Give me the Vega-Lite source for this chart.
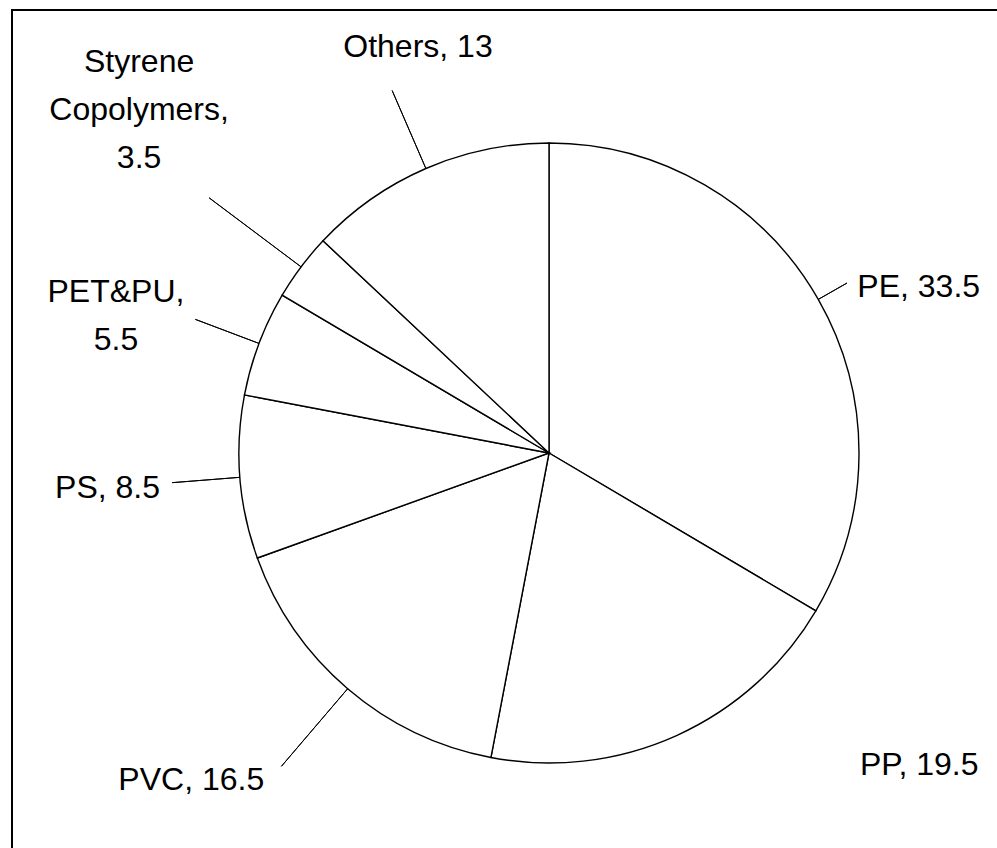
{
  "$schema": "https://vega.github.io/schema/vega-lite/v6.json",
  "autosize": "none",
  "width": 1074,
  "height": 886,
  "padding": {"left": 12, "top": 10, "right": 0, "bottom": 0},
  "background": "white",
  "view": {"stroke": "black", "strokeWidth": 2, "fill": "white"},
  "config": {"text": {"font": "Liberation Sans", "fontSize": 32, "color": "black"}},
  "data": {
    "values": [
      {"i": 1, "name": "PE", "share": 33.5, "label": "PE, 33.5"},
      {"i": 2, "name": "PP", "share": 19.5, "label": "PP, 19.5"},
      {"i": 3, "name": "PVC", "share": 16.5, "label": "PVC, 16.5"},
      {"i": 4, "name": "PS", "share": 8.5, "label": "PS, 8.5"},
      {"i": 5, "name": "PET&PU", "share": 5.5, "label": "PET&PU,\n5.5"},
      {"i": 6, "name": "Styrene Copolymers", "share": 3.5, "label": "Styrene\nCopolymers,\n3.5"},
      {"i": 7, "name": "Others", "share": 13, "label": "Others, 13"}
    ]
  },
  "encoding": {
    "theta": {"field": "share", "type": "quantitative", "stack": true},
    "order": {"field": "i", "type": "quantitative"}
  },
  "layer": [
    {"mark": {"type": "arc", "fill": "white", "stroke": "black", "strokeWidth": 1.4, "radius": 310}},
    {
      "mark": {"type": "arc", "radius": 343, "radius2": 310, "padAngle": 3, "fillOpacity": 0, "strokeWidth": 1},
      "encoding": {"stroke": {"condition": {"test": "datum.name === 'PE'", "value": "black"}, "value": "transparent"}}
    },
    {
      "mark": {"type": "arc", "radius": 395, "radius2": 310, "padAngle": 3, "fillOpacity": 0, "strokeWidth": 1},
      "encoding": {"stroke": {"condition": {"test": "datum.name === 'Others'", "value": "black"}, "value": "transparent"}}
    },
    {
      "mark": {"type": "arc", "radius": 378, "radius2": 310, "padAngle": 3, "fillOpacity": 0, "strokeWidth": 1},
      "encoding": {"stroke": {"condition": {"test": "datum.name === 'PS' || datum.name === 'PET&PU'", "value": "black"}, "value": "transparent"}}
    },
    {
      "mark": {"type": "arc", "radius": 412, "radius2": 310, "padAngle": 3, "fillOpacity": 0, "strokeWidth": 1},
      "encoding": {"stroke": {"condition": {"test": "datum.name === 'PVC'", "value": "black"}, "value": "transparent"}}
    },
    {
      "mark": {"type": "arc", "radius": 425, "radius2": 310, "padAngle": 3, "fillOpacity": 0, "strokeWidth": 1},
      "encoding": {"stroke": {"condition": {"test": "datum.name === 'Styrene Copolymers'", "value": "black"}, "value": "transparent"}}
    },
    {
      "mark": {"type": "text", "radius": 340, "align": "left", "baseline": "middle", "dx": 13, "dy": 2, "lineBreak": "\n"},
      "encoding": {"text": {"condition": {"test": "datum.name === 'PE'", "field": "label", "type": "nominal"}, "value": ""}}
    },
    {
      "mark": {"type": "text", "radius": 340, "align": "left", "baseline": "middle", "dx": 171, "dy": 2, "lineBreak": "\n"},
      "encoding": {"text": {"condition": {"test": "datum.name === 'PP'", "field": "label", "type": "nominal"}, "value": ""}}
    },
    {
      "mark": {"type": "text", "radius": 340, "align": "right", "baseline": "middle", "dx": -64, "dy": 68, "lineBreak": "\n"},
      "encoding": {"text": {"condition": {"test": "datum.name === 'PVC'", "field": "label", "type": "nominal"}, "value": ""}}
    },
    {
      "mark": {"type": "text", "radius": 340, "align": "right", "baseline": "middle", "dx": -50, "dy": 8, "lineBreak": "\n"},
      "encoding": {"text": {"condition": {"test": "datum.name === 'PS'", "field": "label", "type": "nominal"}, "value": ""}}
    },
    {
      "mark": {"type": "text", "radius": 340, "align": "center", "baseline": "middle", "dx": -115, "dy": -41, "lineBreak": "\n", "lineHeight": 48},
      "encoding": {"text": {"condition": {"test": "datum.name === 'PET&PU'", "field": "label", "type": "nominal"}, "value": ""}}
    },
    {
      "mark": {"type": "text", "radius": 340, "align": "center", "baseline": "middle", "dx": -138, "dy": -187, "lineBreak": "\n", "lineHeight": 48},
      "encoding": {"text": {"condition": {"test": "datum.name === 'Styrene Copolymers'", "field": "label", "type": "nominal"}, "value": ""}}
    },
    {
      "mark": {"type": "text", "radius": 340, "align": "center", "baseline": "middle", "dx": 4, "dy": -94, "lineBreak": "\n"},
      "encoding": {"text": {"condition": {"test": "datum.name === 'Others'", "field": "label", "type": "nominal"}, "value": ""}}
    }
  ]
}
